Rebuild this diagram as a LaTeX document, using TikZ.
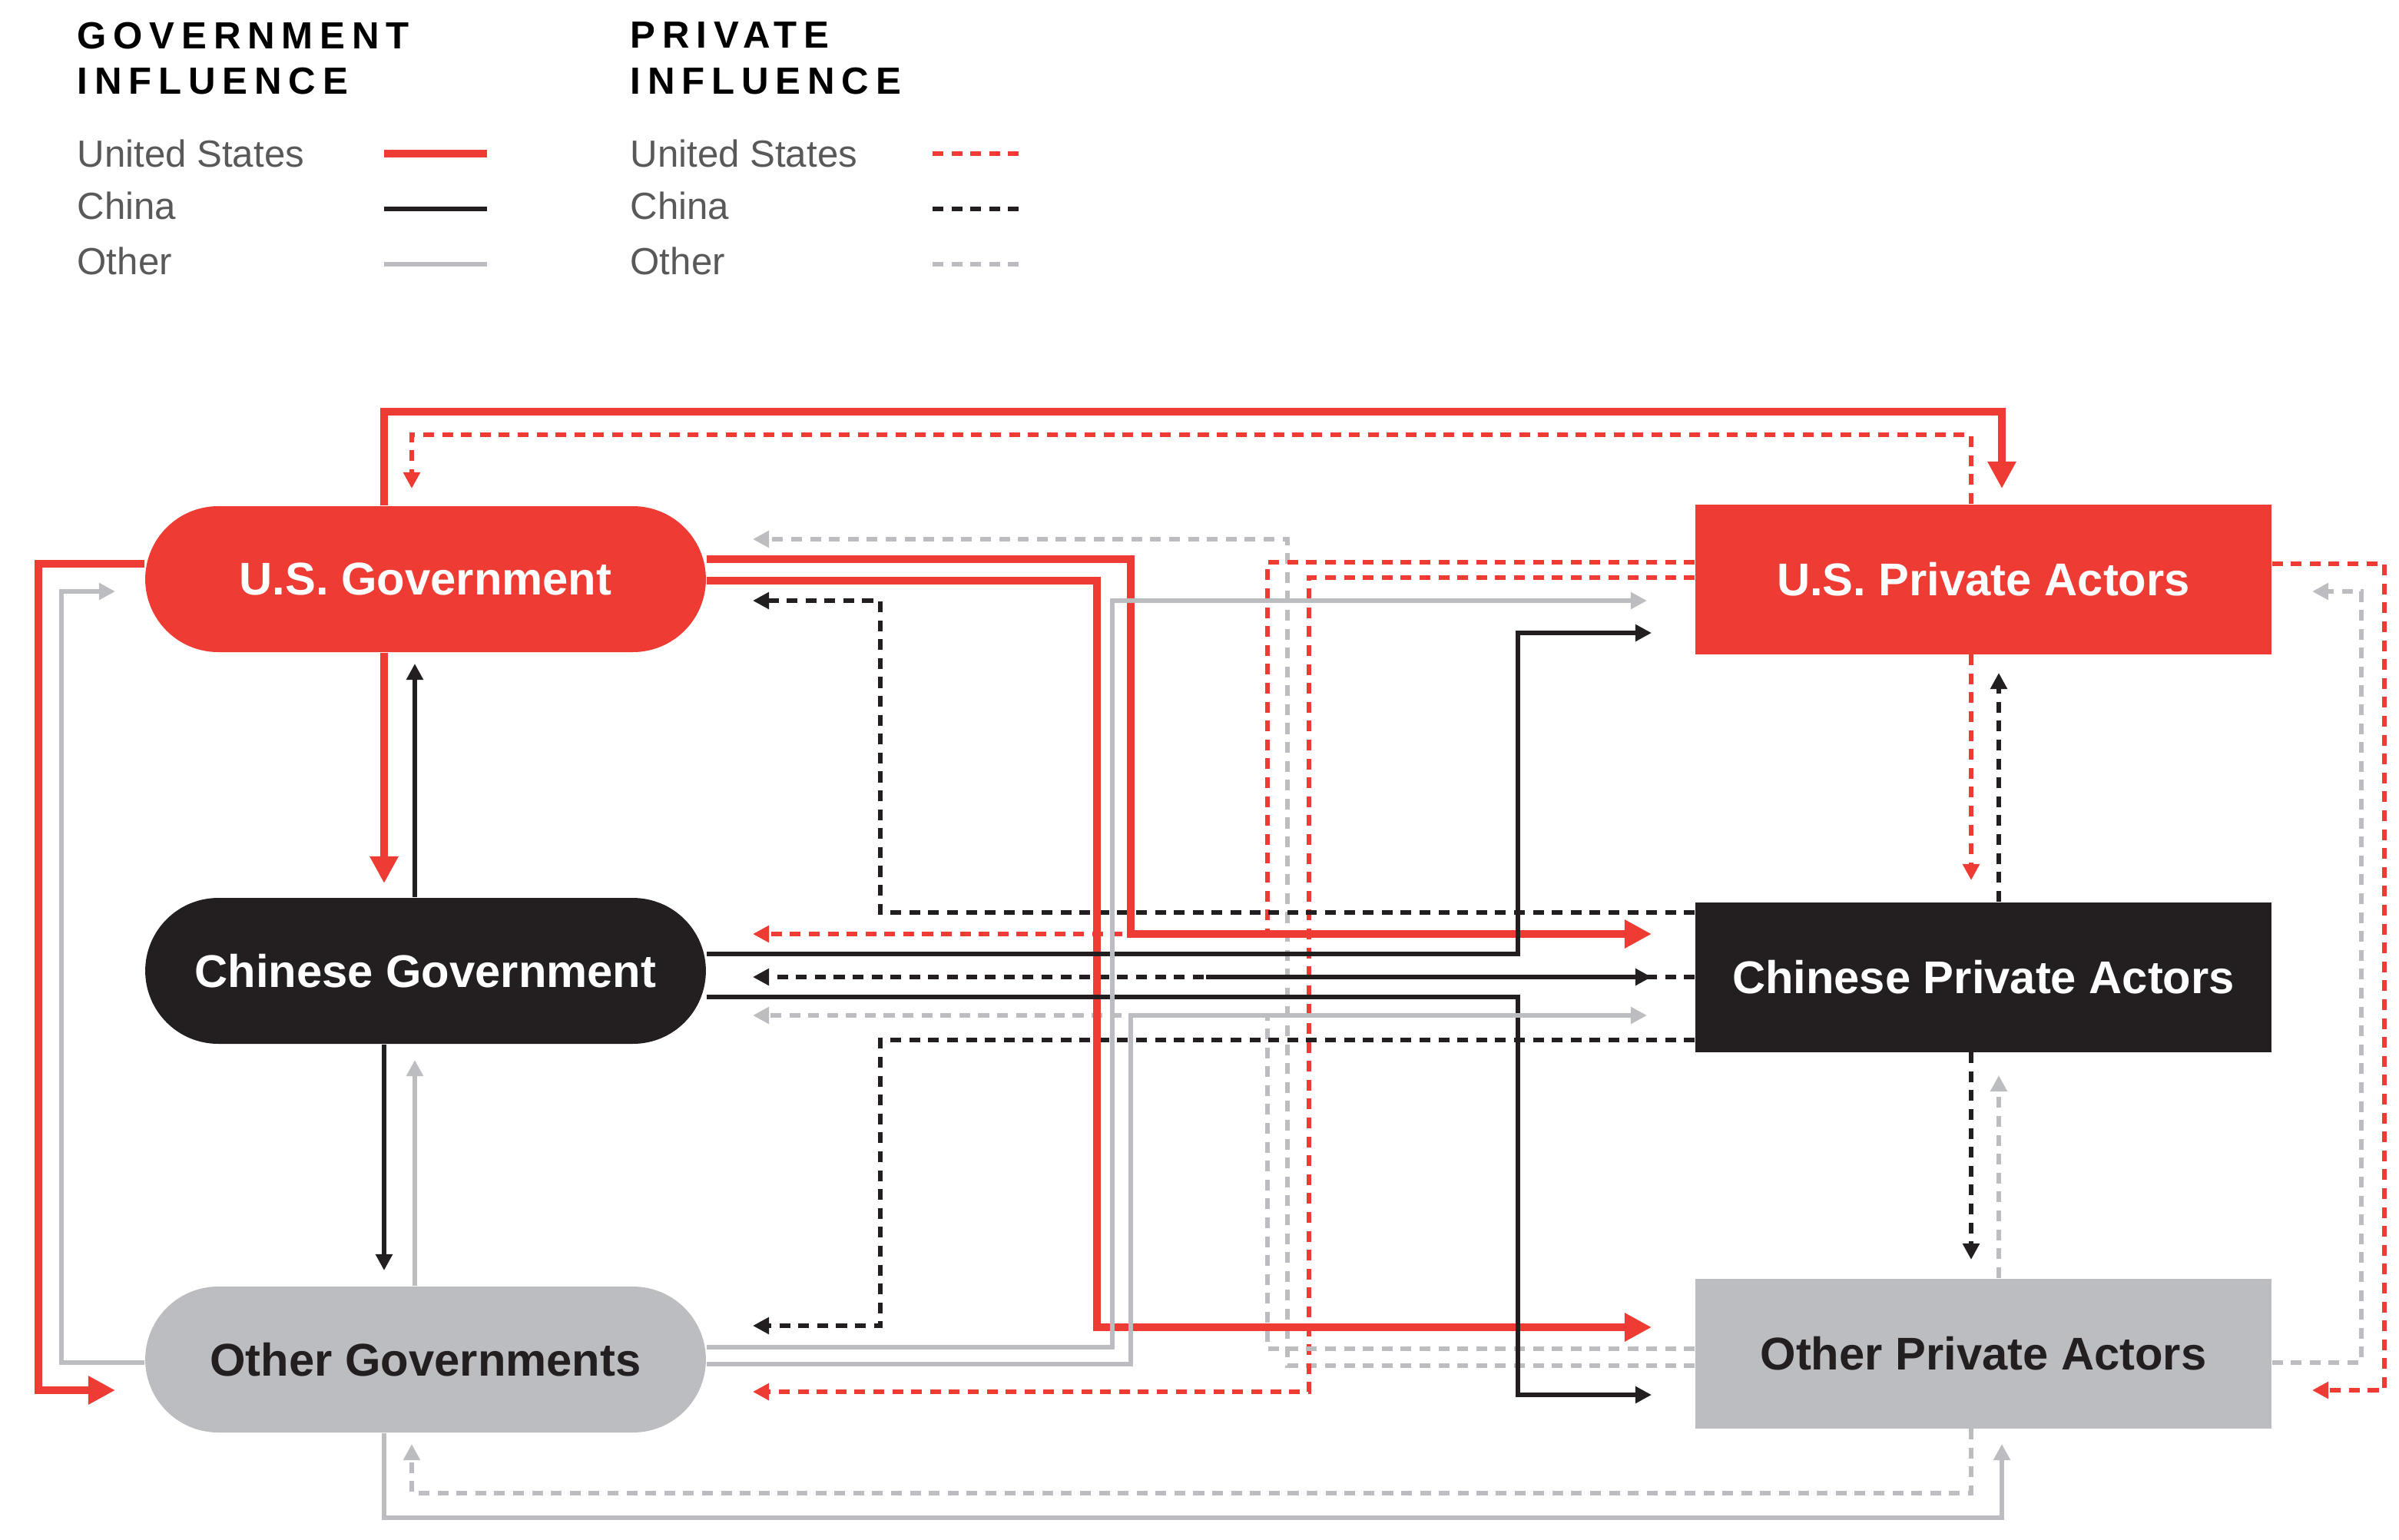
\documentclass[tikz,border=0pt]{standalone}
\usepackage{fontspec}
\setmainfont{Liberation Sans}
\usetikzlibrary{arrows.meta,positioning}
\definecolor{usred}{HTML}{EE3B33}
\definecolor{cnblack}{HTML}{231F20}
\definecolor{othgray}{HTML}{BCBDC0}
\definecolor{legtext}{HTML}{58595B}
\tikzset{
	gov/.style={rounded corners=0.95cm, minimum width=7.3cm, minimum height=1.9cm, font=\fontsize{17}{20}\selectfont\bfseries},
	priv/.style={minimum width=7.5cm, minimum height=1.95cm, font=\fontsize{17}{20}\selectfont\bfseries},
	leg/.style={anchor=west, text=legtext, font=\fontsize{14}{16}\selectfont, inner sep=0pt},
	head/.style={anchor=north west, align=left, inner sep=0pt, font=\fontsize{14}{17}\selectfont\bfseries\addfontfeature{LetterSpace=18}},
	usg/.style={usred, line width=2.6pt, -{Triangle[length=10pt,width=10pt]}},
	cng/.style={cnblack, line width=1.5pt, -{Triangle[length=6pt,width=6pt]}},
	otg/.style={othgray, line width=1.5pt, -{Triangle[length=6pt,width=6pt]}},
	usp/.style={usred, line width=1.5pt, dash pattern=on 4pt off 3pt, -{Triangle[length=6pt,width=6pt]}},
	cnp/.style={cnblack, line width=1.5pt, dash pattern=on 4pt off 3pt, -{Triangle[length=6pt,width=6pt]}},
	otp/.style={othgray, line width=1.5pt, dash pattern=on 4pt off 3pt, -{Triangle[length=6pt,width=6pt]}},
}
\begin{document}
\begin{tikzpicture}[x=0.02cm,y=-0.02cm]
	\useasboundingbox (0,0) rectangle (1561.5,1002);
	% legend
	\node[head] (hgov) at (50,14) {GOVERNMENT\\INFLUENCE};
	\node[head] (hpriv) at (410,14) {PRIVATE\\INFLUENCE};
	\node[leg] (lgus) at (50,100) {United States};
	\node[leg] (lgcn) at (50,134) {China};
	\node[leg] (lgot) at (50,170) {Other};
	\node[leg] (lpus) at (410,100) {United States};
	\node[leg] (lpcn) at (410,134) {China};
	\node[leg] (lpot) at (410,170) {Other};
	\draw[usg,-] (250,100) -- (317,100);
	\draw[cng,-] (250,136) -- (317,136);
	\draw[otg,-] (250,172) -- (317,172);
	\draw[usp,-] (607,100) -- (667,100);
	\draw[cnp,-] (607,136) -- (667,136);
	\draw[otp,-] (607,172) -- (667,172);

	% actors
	\node[gov, fill=usred, text=white] (usgov) at (277,377) {U.S. Government};
	\node[gov, fill=cnblack, text=white] (cngov) at (277,632) {Chinese Government};
	\node[gov, fill=othgray, text=cnblack] (otgov) at (277,885) {Other Governments};
	\node[priv, fill=usred, text=white] (uspriv) at (1291,377) {U.S. Private Actors};
	\node[priv, fill=cnblack, text=white] (cnpriv) at (1291,636) {Chinese Private Actors};
	\node[priv, fill=othgray, text=cnblack] (otpriv) at (1291,881) {Other Private Actors};
	\coordinate (cnsplit) at (785,636);

	% government to government
	\draw[usg] (usgov.south -| 250,0) -- (250,575);
	\draw[cng] (cngov.north -| 270,0) -- (270,432);
	\draw[cng] (cngov.south -| 250,0) -- (250,827);
	\draw[otg] (otgov.north -| 270,0) -- (270,690);
	\draw[usg] (usgov.west |- 0,367) -- (25,367) -- (25,905) -- (75,905);
	\draw[otg] (otgov.west |- 0,887) -- (40,887) -- (40,385) -- (75,385);

	% private to private
	\draw[usp] (uspriv.south -| 1283,0) -- (1283,573);
	\draw[cnp] (cnpriv.north -| 1301,0) -- (1301,438);
	\draw[cnp] (cnpriv.south -| 1283,0) -- (1283,820);
	\draw[otp] (otpriv.north -| 1301,0) -- (1301,700);
	\draw[usp] (uspriv.east |- 0,367) -- (1552,367) -- (1552,905) -- (1505,905);
	\draw[otp] (otpriv.east |- 0,887) -- (1537,887) -- (1537,385) -- (1505,385);

	% across the top and bottom
	\draw[usg] (usgov.north -| 250,0) -- (250,268) -- (1303,268) -- (1303,318);
	\draw[usp] (uspriv.north -| 1283,0) -- (1283,283) -- (268,283) -- (268,318);
	\draw[otg] (otgov.south -| 250,0) -- (250,988) -- (1303,988) -- (1303,940);
	\draw[otp] (otpriv.south -| 1283,0) -- (1283,972) -- (268,972) -- (268,940);

	% private to government
	\draw[otp] (otpriv.west |- 0,889) -- (838,889) -- (838,351) -- (490,351);
	\draw[usp] (uspriv.west |- 0,366) -- (825,366) -- (825,608) -- (490,608);
	\draw[usp] (uspriv.west |- 0,376) -- (852,376) -- (852,906) -- (490,906);
	\draw[otp] (otpriv.west |- 0,878) -- (825,878) -- (825,661) -- (490,661);
	\draw[cnp] (cnpriv.west |- 0,594) -- (573,594) -- (573,391) -- (490,391);
	\draw[cnp] (cnpriv.west |- 0,677) -- (573,677) -- (573,863) -- (490,863);
	\draw[cnp] (cnpriv.west |- 0,636) -- (490,636);

	% government to private
	\draw[usg] (usgov.east |- 0,364) -- (736,364) -- (736,608) -- (1075,608);
	\draw[usg] (usgov.east |- 0,378) -- (714,378) -- (714,864) -- (1075,864);
	\draw[cng] (cngov.east |- 0,621) -- (988,621) -- (988,412) -- (1075,412);
	\draw[cng] (cngov.east |- 0,649) -- (988,649) -- (988,908) -- (1075,908);
	\draw[cng] (cnsplit) -- (1075,636);
	\draw[otg] (otgov.east |- 0,877) -- (724,877) -- (724,391) -- (1072,391);
	\draw[otg] (otgov.east |- 0,888) -- (736,888) -- (736,661) -- (1072,661);
\end{tikzpicture}
\end{document}
